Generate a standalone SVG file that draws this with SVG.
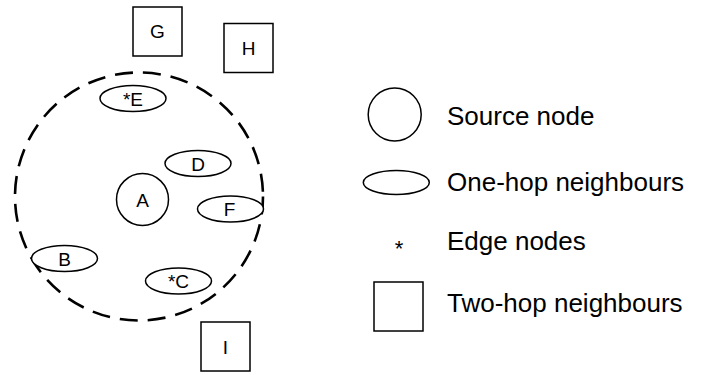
<svg xmlns="http://www.w3.org/2000/svg" width="704" height="375" viewBox="0 0 704 375">
<style>
.s{fill:#fff;stroke:#000;stroke-width:1.5}
.l{font-family:"Liberation Sans",Arial,sans-serif;font-size:19px;fill:#000;text-anchor:middle}
.g{font-family:"Liberation Sans",Arial,sans-serif;font-size:26px;fill:#000}
.range{fill:none;stroke:#000;stroke-width:2.6;stroke-dasharray:18 10}
</style>
<rect width="704" height="375" fill="#fff"/>
<g id="range"><circle class="range" cx="139" cy="196.5" r="124"/></g>
<g id="connectors"></g>
<g id="G"><rect class="s" x="133" y="7" width="49" height="49"/><text class="l" x="157.5" y="38">G</text></g>
<g id="H"><rect class="s" x="224" y="23.5" width="49" height="49"/><text class="l" x="248.5" y="54.5">H</text></g>
<g id="E"><ellipse class="s" cx="133" cy="98.5" rx="33" ry="13"/><text class="l" x="133" y="105.5">*E</text></g>
<g id="D"><ellipse class="s" cx="198" cy="163.5" rx="33" ry="13"/><text class="l" x="198" y="170.5">D</text></g>
<g id="A"><circle class="s" cx="142.5" cy="199.5" r="26"/><text class="l" x="142.5" y="206.5">A</text></g>
<g id="F"><ellipse class="s" cx="230.5" cy="209" rx="33" ry="13"/><text class="l" x="229.5" y="216">F</text></g>
<g id="B"><ellipse class="s" cx="64.5" cy="258.5" rx="33" ry="13"/><text class="l" x="64.5" y="265.5">B</text></g>
<g id="C"><ellipse class="s" cx="178.5" cy="281" rx="33" ry="13"/><text class="l" x="178.5" y="288">*C</text></g>
<g id="I"><rect class="s" x="201" y="322" width="49" height="49"/><text class="l" x="225.5" y="353.5">I</text></g>
<g id="legend">
<circle class="s" cx="394.7" cy="114.5" r="26.5"/>
<text class="g" x="447" y="124.5">Source node</text>
<ellipse class="s" cx="396.3" cy="182.5" rx="33" ry="12"/>
<text class="g" x="447" y="191">One-hop neighbours</text>
<text class="g" x="399" y="256" style="font-size:22px;text-anchor:middle">*</text>
<text class="g" x="447" y="250">Edge nodes</text>
<rect class="s" x="374" y="282" width="49" height="49"/>
<text class="g" x="447" y="312">Two-hop neighbours</text>
</g>
</svg>
